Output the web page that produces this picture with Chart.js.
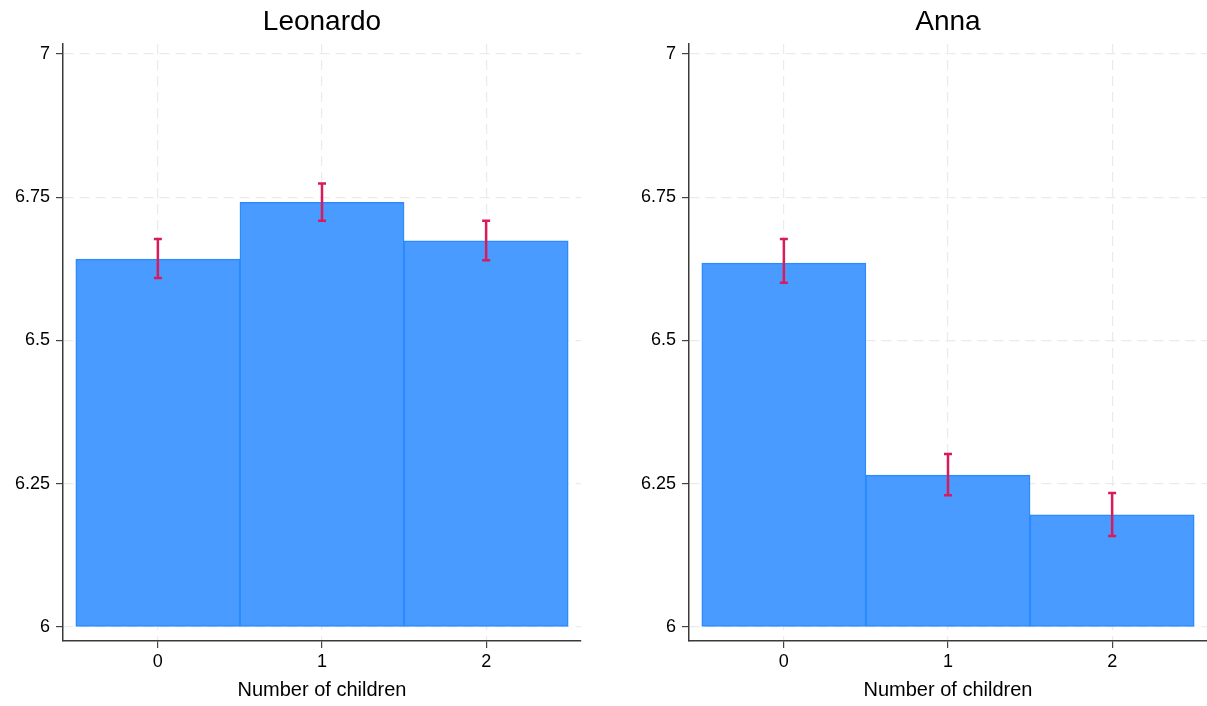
<!DOCTYPE html>
<html>
<head>
<meta charset="utf-8">
<script src="https://cdn.jsdelivr.net/npm/chart.js@4"></script>
<style>
  body { margin: 0; background: #fff; }
  .panel { position: absolute; top: 0; }
</style>
</head>
<body>
<div class="panel" style="left:0"><canvas id="left" width="603" height="706"></canvas></div>
<div class="panel" style="left:604px"><canvas id="right" width="603" height="706"></canvas></div>
<script>
const children = [0, 1, 2];
const xTicks = [0, 1, 2];
const yTicks = [6, 6.25, 6.5, 6.75, 7];

const leoMean = [6.642, 6.741, 6.674];
const leoLow = [6.609, 6.709, 6.640];
const leoHigh = [6.677, 6.774, 6.709];

const annaMean = [6.635, 6.265, 6.196];
const annaLow = [6.601, 6.230, 6.159];
const annaHigh = [6.677, 6.302, 6.234];

Chart.defaults.font.family = "'Liberation Sans', Arial, sans-serif";
Chart.defaults.color = '#000';

// draws the ci caps on top of the bars
const errorBars = {
    id: 'errorBars',
    afterDatasetsDraw(chart, args, opts) {
        const ctx = chart.ctx;
        const xs = chart.scales.x, ys = chart.scales.y;
        ctx.save();
        ctx.strokeStyle = '#d81b5c';
        ctx.lineWidth = 2.5;
        for (let i = 0; i < opts.low.length; i++) {
            const x = xs.getPixelForValue(children[i]);
            const y1 = ys.getPixelForValue(opts.low[i]);
            const y2 = ys.getPixelForValue(opts.high[i]);
            ctx.beginPath();
            ctx.moveTo(x, y1); ctx.lineTo(x, y2);
            ctx.moveTo(x - 4, y1); ctx.lineTo(x + 4, y1);
            ctx.moveTo(x - 4, y2); ctx.lineTo(x + 4, y2);
            ctx.stroke();
        }
        ctx.restore();
    }
};

function makePanel(id, title, mean, low, high, axisWidth, padRight) {
    return new Chart(document.getElementById(id).getContext('2d'), {
        type: 'bar',
        data: {
            datasets: [{
                data: children.map((c, i) => ({x: c, y: mean[i]})),
                base: 6,
                backgroundColor: '#4a9bff',
                borderColor: '#2b8aff',
                borderWidth: 1.5,
                borderSkipped: false,
                barPercentage: 1,
                categoryPercentage: 1
            }]
        },
        options: {
            responsive: false,
            animation: false,
            layout: { padding: { left: 0, right: padRight, top: 0, bottom: 0 } },
            plugins: {
                legend: { display: false },
                tooltip: { enabled: false },
                title: {
                    display: true,
                    text: title,
                    fullSize: false,
                    font: { size: 28, weight: 'normal' },
                    color: '#000',
                    padding: { top: 5, bottom: 5.4 }
                },
                errorBars: { low: low, high: high }
            },
            scales: {
                x: {
                    type: 'linear',
                    offset: false,
                    min: -0.578,
                    max: 2.578,
                    afterBuildTicks: s => { s.ticks = xTicks.map(v => ({value: v})); },
                    afterFit: s => { s.height = 65; },
                    ticks: { font: { size: 18 }, color: '#000', padding: 3 },
                    grid: { offset: false, color: '#ebebeb', tickColor: '#444', tickLength: 7, lineWidth: 1.2 },
                    border: { color: '#3a3a3a', width: 1.5, dash: [10, 6] },
                    title: {
                        display: true,
                        text: 'Number of children',
                        font: { size: 20 },
                        color: '#000',
                        padding: { top: 0, bottom: 4 }
                    }
                },
                y: {
                    min: 5.9756,
                    max: 7.0175,
                    afterBuildTicks: s => { s.ticks = yTicks.map(v => ({value: v})); },
                    afterFit: s => { s.width = axisWidth; },
                    ticks: { font: { size: 18 }, color: '#000', padding: 6, callback: v => String(v) },
                    grid: { color: '#ebebeb', tickColor: '#444', tickLength: 7, lineWidth: 1.2 },
                    border: { color: '#3a3a3a', width: 1.5, dash: [10, 6] }
                }
            }
        },
        plugins: [errorBars]
    });
}

makePanel('left', 'Leonardo', leoMean, leoLow, leoHigh, 63, 22);
makePanel('right', 'Anna', annaMean, annaLow, annaHigh, 85, 0);
</script>
</body>
</html>
